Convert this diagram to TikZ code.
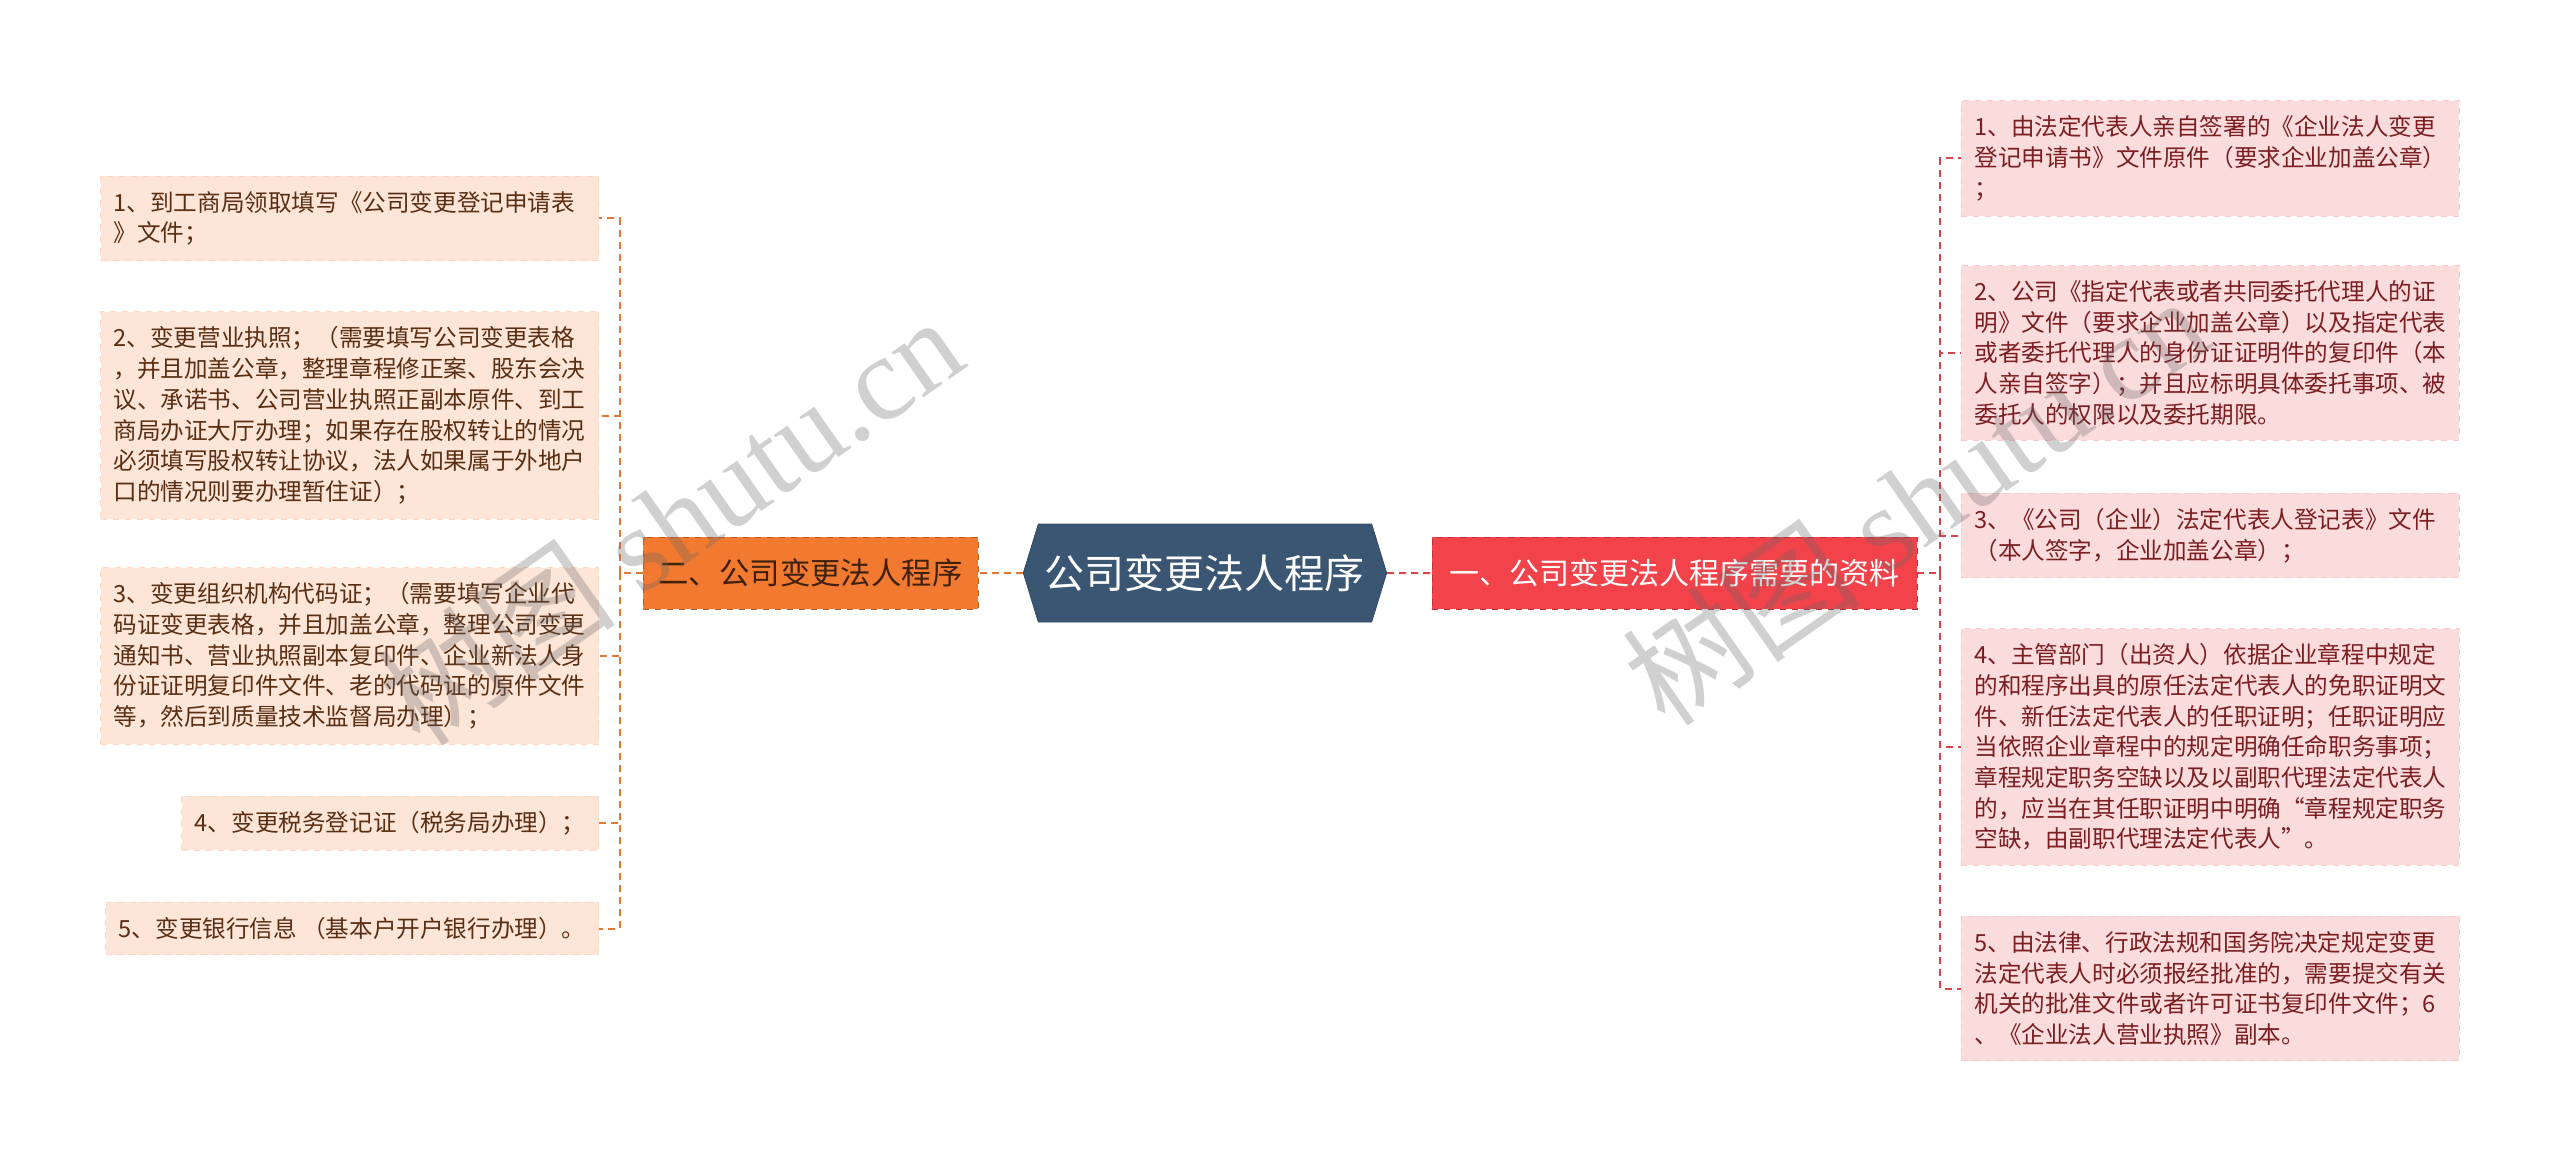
\documentclass[tikz,border=0pt]{standalone}
\usepackage{fontspec}
\usepackage{tikz}
\usetikzlibrary{shapes.symbols, arrows}
\newfontfamily\cjk{Noto Sans CJK SC}
\newfontfamily\wmserif{Liberation Serif}
\definecolor{hubblue}{HTML}{3B5673}
\definecolor{brorange}{HTML}{F27A30}
\definecolor{brred}{HTML}{F2434B}
\definecolor{leafpeach}{HTML}{FDE5D8}
\definecolor{leafpink}{HTML}{FBDCDD}
\definecolor{peachtext}{HTML}{5A2E12}
\definecolor{pinktext}{HTML}{7A1E22}
\definecolor{lineorange}{HTML}{E27736}
\definecolor{linered}{HTML}{DC4249}
\tikzstyle{hub} = [signal, signal to=west and east, 
signal pointer angle=146,
minimum width=181pt, 
minimum height=49pt,
text centered, 
draw=hubblue!85!black, 
fill=hubblue, text=white,
font=\cjk\fontsize{20}{24}\selectfont]
\tikzstyle{brl} = [rectangle, 
minimum width=167.5pt, 
minimum height=36pt,
text centered, dashed,
draw=brorange!75!black, 
fill=brorange, text=peachtext!70!black,
font=\cjk\fontsize{15.2}{18}\selectfont]
\tikzstyle{brr} = [rectangle, 
minimum width=242.5pt, 
minimum height=36pt,
text centered, dashed,
draw=brred!75!black, 
fill=brred, text=white,
font=\cjk\fontsize{15}{18}\selectfont]
\tikzstyle{lfl1} = [rectangle, 
align=left, inner xsep=6.5pt, inner ysep=7.5pt,
dashed, draw=leafpeach!88!brorange, 
fill=leafpeach, text=peachtext,
font=\cjk\fontsize{11.8}{15.35}\selectfont]
\tikzstyle{lfl} = [lfl1, text width=236pt]
\tikzstyle{lfr} = [rectangle, text width=236pt,
align=left, inner xsep=6.5pt, inner ysep=7.5pt,
dashed, draw=leafpink!88!brred, 
fill=leafpink, text=pinktext,
font=\cjk\fontsize{11.8}{15.35}\selectfont]
\tikzstyle{lnl} = [draw=lineorange, line width=1pt, dash pattern=on 3.5pt off 2.5pt]
\tikzstyle{lnr} = [draw=linered, line width=1pt, dash pattern=on 3.5pt off 2.5pt]
\tikzstyle{wm} = [text=black!60, text opacity=0.3, font=\cjk\fontsize{60}{60}\selectfont]

\begin{document}
\begin{tikzpicture}[node distance=197.25pt]
\fill[white] (-602.5pt,-295pt) rectangle (677.5pt,286.5pt);
\useasboundingbox (-602.5pt,-295pt) rectangle (677.5pt,286.5pt);

\node (proc) [hub] {公司变更法人程序};
\node (two) [brl, left of=proc] {二、公司变更法人程序};
\node (one) [brr, right of=proc, xshift=37.5pt] {一、公司变更法人程序需要的资料};
\draw[lnl] (proc) -- (two);
\draw[lnr] (proc) -- (one);

% left side
\node (l1) [lfl, left of=two, anchor=east, xshift=91.5pt, yshift=177.25pt] {1、到工商局领取填写《公司变更登记申请表\\》文件；};
\node (l2) [lfl, left of=two, anchor=east, xshift=91.5pt, yshift=78.75pt] {2、变更营业执照；（需要填写公司变更表格\\，并且加盖公章，整理章程修正案、股东会决\\议、承诺书、公司营业执照正副本原件、到工\\商局办证大厅办理；如果存在股权转让的情况\\必须填写股权转让协议，法人如果属于外地户\\口的情况则要办理暂住证）；};
\node (l3) [lfl, left of=two, anchor=east, xshift=91.5pt, yshift=-41.5pt] {3、变更组织机构代码证；（需要填写企业代\\码证变更表格，并且加盖公章，整理公司变更\\通知书、营业执照副本复印件、企业新法人身\\份证证明复印件文件、老的代码证的原件文件\\等，然后到质量技术监督局办理）；};
\node (l4) [lfl1, left of=two, anchor=east, xshift=91.5pt, yshift=-125pt] {4、变更税务登记证（税务局办理）；};
\node (l5) [lfl1, left of=two, anchor=east, xshift=91.5pt, yshift=-177.75pt] {5、变更银行信息 （基本户开户银行办理）。};
\coordinate (jl) at ([xshift=-11.5pt]two.west);
\draw[lnl] (two) -- (jl);
\draw[lnl] (jl) |- (l1);
\draw[lnl] (jl) |- (l2);
\draw[lnl] (jl) |- (l3);
\draw[lnl] (jl) |- (l4);
\draw[lnl] (jl) |- (l5);

% right side
\node (r1) [lfr, right of=one, anchor=west, xshift=-54pt, yshift=207.25pt] {1、由法定代表人亲自签署的《企业法人变更\\登记申请书》文件原件（要求企业加盖公章）\\；};
\node (r2) [lfr, right of=one, anchor=west, xshift=-54pt, yshift=110pt] {2、公司《指定代表或者共同委托代理人的证\\明》文件（要求企业加盖公章）以及指定代表\\或者委托代理人的身份证证明件的复印件（本\\人亲自签字）；并且应标明具体委托事项、被\\委托人的权限以及委托期限。};
\node (r3) [lfr, right of=one, anchor=west, xshift=-54pt, yshift=18.75pt] {3、《公司（企业）法定代表人登记表》文件\\（本人签字，企业加盖公章）；};
\node (r4) [lfr, right of=one, anchor=west, xshift=-54pt, yshift=-87pt] {4、主管部门（出资人）依据企业章程中规定\\的和程序出具的原任法定代表人的免职证明文\\件、新任法定代表人的任职证明；任职证明应\\当依照企业章程中的规定明确任命职务事项；\\章程规定职务空缺以及以副职代理法定代表人\\的，应当在其任职证明中明确“章程规定职务\\空缺，由副职代理法定代表人”。};
\node (r5) [lfr, right of=one, anchor=west, xshift=-54pt, yshift=-207.75pt] {5、由法律、行政法规和国务院决定规定变更\\法定代表人时必须报经批准的，需要提交有关\\机关的批准文件或者许可证书复印件文件；6\\、《企业法人营业执照》副本。};
\coordinate (jr) at ([xshift=11.5pt]one.east);
\draw[lnr] (one) -- (jr);
\draw[lnr] (jr) |- (r1);
\draw[lnr] (jr) |- (r2);
\draw[lnr] (jr) |- (r3);
\draw[lnr] (jr) |- (r4);
\draw[lnr] (jr) |- (r5);

% watermark
\node (wm1) [wm, rotate=35] at (-267.5pt,26.5pt) {树图 {\wmserif shutu.cn}};
\node (wm2) [wm, rotate=35] at (355pt,36.5pt) {树图 {\wmserif shutu.cn}};

\end{tikzpicture}
\end{document}
